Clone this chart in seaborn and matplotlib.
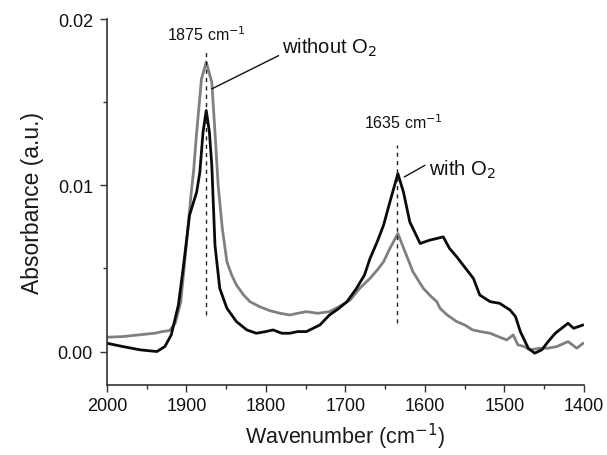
import numpy as np
import pandas as pd
import matplotlib
matplotlib.use("Agg")
import matplotlib.pyplot as plt
import seaborn as sns

# ---- data ----
wn_without = [2000, 1980, 1960, 1940, 1930, 1921, 1914, 1907, 1900, 1894, 1891, 1887, 1881, 1875,
              1868, 1864, 1860, 1855, 1849, 1843, 1837, 1828, 1820, 1808, 1795, 1782, 1770, 1760,
              1749, 1735, 1720, 1708, 1694, 1682, 1669, 1660, 1652, 1644, 1634, 1625, 1615, 1602,
              1592, 1585, 1581, 1572, 1560, 1550, 1540, 1530, 1518, 1508, 1497, 1489, 1483, 1475,
              1468, 1455, 1445, 1434, 1420, 1409, 1401]
abs_without = [0.00086, 0.0009, 0.0010, 0.0011, 0.0012, 0.00126, 0.0017, 0.0030, 0.0064, 0.0095,
               0.0108, 0.0132, 0.0164, 0.0174, 0.0162, 0.0132, 0.0100, 0.0075, 0.0054, 0.0046,
               0.0040, 0.0034, 0.0030, 0.0027, 0.00246, 0.0023, 0.0022, 0.0023, 0.0024, 0.0023,
               0.0024, 0.0027, 0.0031, 0.0038, 0.0044, 0.0049, 0.0054, 0.0062, 0.0071, 0.0060,
               0.0048, 0.0038, 0.0033, 0.0030, 0.0026, 0.0022, 0.0018, 0.0016, 0.0013, 0.0012,
               0.0011, 0.0009, 0.0007, 0.0010, 0.0004, 0.0003, 0.0001, 0.0002, 0.0002, 0.0003,
               0.0006, 0.0002, 0.0005]

wn_with = [2000, 1980, 1958, 1937, 1927, 1919, 1910, 1904, 1896, 1887, 1883, 1879, 1875, 1871,
           1868, 1864, 1858, 1849, 1837, 1824, 1812, 1800, 1791, 1780, 1770, 1760, 1749, 1732,
           1720, 1708, 1698, 1686, 1676, 1669, 1660, 1652, 1644, 1634, 1627, 1619, 1606, 1594,
           1585, 1577, 1569, 1560, 1552, 1539, 1531, 1518, 1506, 1493, 1486, 1480, 1470, 1462,
           1453, 1445, 1436, 1428, 1420, 1413, 1401]
abs_with = [0.0005, 0.0003, 0.0001, 0.0, 0.0003, 0.0010, 0.0028, 0.0050, 0.0082, 0.0096, 0.0108,
            0.0132, 0.0145, 0.0132, 0.0112, 0.0064, 0.0038, 0.0026, 0.0018, 0.0013, 0.0011,
            0.0012, 0.0013, 0.0011, 0.0011, 0.0012, 0.0012, 0.0016, 0.0022, 0.0026, 0.0030,
            0.0038, 0.0046, 0.0056, 0.0066, 0.0076, 0.0090, 0.0107, 0.0096, 0.0078, 0.0065,
            0.0067, 0.0068, 0.0069, 0.0062, 0.0057, 0.0052, 0.0044, 0.0034, 0.0030, 0.0029,
            0.0025, 0.0021, 0.0012, 0.0002, -0.0001, 0.0001, 0.0006, 0.0011, 0.0014, 0.0017,
            0.0014, 0.0016]

peak_positions = [1875, 1635]
peak_labels = ["1875 cm$^{-1}$", "1635 cm$^{-1}$"]
xticks = [2000, 1900, 1800, 1700, 1600, 1500, 1400]
yticks = [0.00, 0.01, 0.02]
ytick_labels = ["0.00", "0.01", "0.02"]

# ---- plotting ----
sns.set_style("ticks")
plt.rcParams['font.family'] = ['Liberation Sans', 'DejaVu Sans']

fig = plt.figure(figsize=(6.07, 4.56), dpi=100)
ax = fig.add_axes([0.176, 0.154, 0.786, 0.802])

df_wo = pd.DataFrame({"wn": wn_without, "A": abs_without})
df_w = pd.DataFrame({"wn": wn_with, "A": abs_with})
sns.lineplot(data=df_wo, x="wn", y="A", ax=ax, color="#808080", lw=2.0, sort=False)
sns.lineplot(data=df_w, x="wn", y="A", ax=ax, color="#0a0a0a", lw=2.0, sort=False)

ax.set_xlim(2000, 1400)
ax.set_ylim(-0.002, 0.02)
ax.set_xticks(xticks)
ax.set_xticklabels([str(t) for t in xticks])
ax.set_yticks(yticks)
ax.set_yticklabels(ytick_labels)
ax.set_xticks([1950, 1850, 1750, 1650, 1550, 1450], minor=True)
ax.set_yticks([0.005, 0.015], minor=True)
ax.tick_params(axis="both", which="major", direction="out", length=5, width=1, labelsize=13,
               color="#333333", labelcolor="#111111", pad=4)
ax.tick_params(axis="y", which="major", pad=5)
ax.tick_params(axis="both", which="minor", direction="out", length=3, width=1, color="#333333")
for s in ["top", "right"]:
    ax.spines[s].set_visible(False)
for s in ["left", "bottom"]:
    ax.spines[s].set_color("#333333")
    ax.spines[s].set_linewidth(1.2)
ax.spines["left"].set_bounds(-0.002, 0.02)

ax.set_xlabel("Wavenumber (cm$^{-1}$)", fontsize=15.5, color="#1a1a1a", labelpad=5)
ax.set_ylabel("Absorbance (a.u.)", fontsize=16.5, color="#1a1a1a", labelpad=10)

# dashed peak markers
ax.plot([peak_positions[0]] * 2, [0.0022, 0.0181], ls=(0, (3, 3)), color="#222222", lw=1)
ax.plot([peak_positions[1]] * 2, [0.0017, 0.0124], ls=(0, (3, 3)), color="#222222", lw=1)
ax.text(peak_positions[0], 0.0191, peak_labels[0], ha="center", va="center", fontsize=11.5, color="#111111")
ax.text(peak_positions[1] - 8, 0.0138, peak_labels[1], ha="center", va="center", fontsize=11.5, color="#111111")

# leader lines + labels
ax.plot([1868, 1784], [0.0158, 0.0178], color="#111111", lw=1)
ax.text(1780, 0.0183, "without O$_2$", ha="left", va="center", fontsize=14.5, color="#111111")
ax.plot([1626, 1600], [0.0105, 0.0112], color="#111111", lw=1)
ax.text(1595, 0.0110, "with O$_2$", ha="left", va="center", fontsize=14.5, color="#111111")

fig.savefig("out.png", dpi=100)
